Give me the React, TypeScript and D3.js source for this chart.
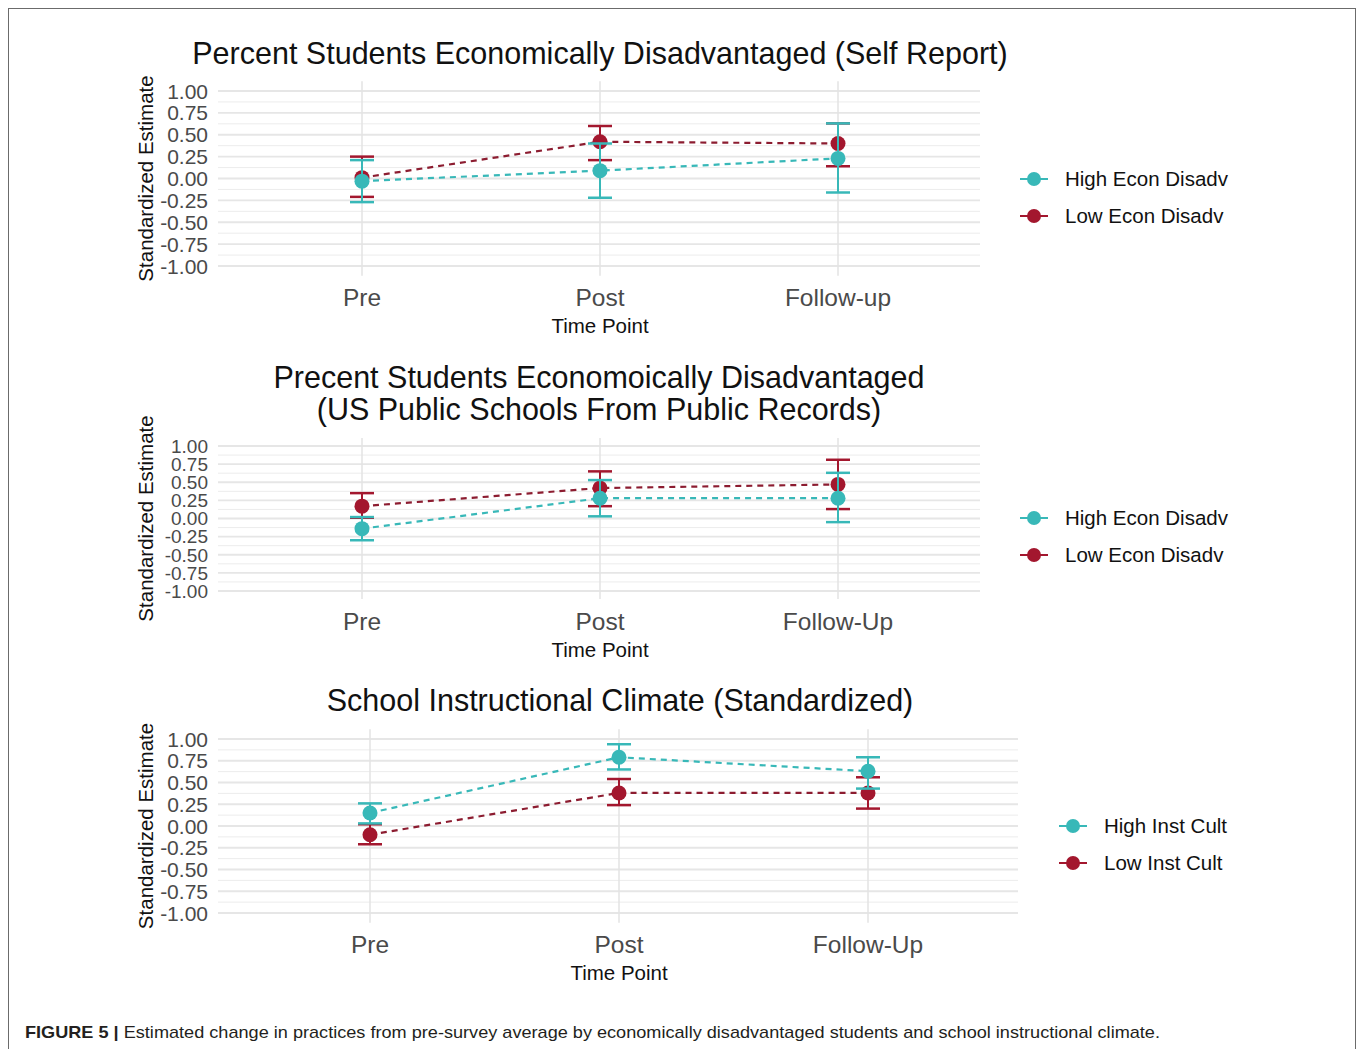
import React from 'react';
import * as d3 from 'd3';

// time point labels
const timeSelf = ['Pre', 'Post', 'Follow-up'];
const timeRecords = ['Pre', 'Post', 'Follow-Up'];
const timeClimate = ['Pre', 'Post', 'Follow-Up'];

// y tick labels
const yTicks = [1, 0.75, 0.5, 0.25, 0, -0.25, -0.5, -0.75, -1];

// panel 1: self report
const selfHighEst = [-0.03, 0.09, 0.23];
const selfHighLo = [-0.27, -0.22, -0.16];
const selfHighHi = [0.21, 0.40, 0.63];
const selfLowEst = [0.01, 0.42, 0.40];
const selfLowLo = [-0.21, 0.21, 0.14];
const selfLowHi = [0.25, 0.60, 0.63];

// panel 2: public records
const recHighEst = [-0.14, 0.28, 0.28];
const recHighLo = [-0.30, 0.03, -0.05];
const recHighHi = [0.02, 0.53, 0.63];
const recLowEst = [0.17, 0.42, 0.47];
const recLowLo = [0.01, 0.17, 0.13];
const recLowHi = [0.35, 0.65, 0.81];

// panel 3: instructional climate
const climHighEst = [0.15, 0.79, 0.63];
const climHighLo = [0.03, 0.65, 0.43];
const climHighHi = [0.26, 0.94, 0.79];
const climLowEst = [-0.10, 0.38, 0.38];
const climLowLo = [-0.21, 0.24, 0.20];
const climLowHi = [0.02, 0.54, 0.56];

const TEAL = '#38b8b8';
const RED = '#a3172e';
const RED_LINE = '#8c1c30';
const FONT = "'Liberation Sans', Arial, sans-serif";

type Series = { name: string; est: number[]; lo: number[]; hi: number[]; color: string; lineColor: string };

type PanelProps = {
  titles: string[];
  titleX: number;
  titleY: number;
  cats: string[];
  series: Series[];
  left: number;
  right: number;
  firstX: number;
  lastX: number;
  yTop: number;
  yBottom: number;
  tickSize: number;
  xLabelY: number;
  xTitleY: number;
  legendX: number;
  legendY: number;
};

// ggplot-style labels use a plain hyphen, not the unicode minus
const fmt = (v: number) => d3.format('.2f')(v).replace('\u2212', '-');

const Panel: React.FC<PanelProps> = (p) => {
  const x = d3.scalePoint<string>().domain(p.cats).range([p.firstX, p.lastX]);
  const y = d3.scaleLinear().domain([-1, 1]).range([p.yBottom, p.yTop]);
  const minor = d3.range(-0.875, 1, 0.25);
  const pad = (p.yBottom - p.yTop) * 0.04;
  const line = d3.line<number>().x((_, i) => x(p.cats[i]) as number).y(d => y(d));
  const yMid = (p.yTop + p.yBottom) / 2;

  return (
    <g>
      {p.titles.map((t, i) => (
        <text key={t} x={p.titleX} y={p.titleY + i * 32} textAnchor="middle" fontSize={30.5} fill="#111">{t}</text>
      ))}
      {minor.map(v => (
        <line key={'mn' + v} x1={p.left} x2={p.right} y1={y(v)} y2={y(v)} stroke="#ececec" strokeWidth={1} />
      ))}
      {yTicks.map(v => (
        <line key={'mj' + v} x1={p.left} x2={p.right} y1={y(v)} y2={y(v)} stroke="#e6e6e6" strokeWidth={1.8} />
      ))}
      {p.cats.map(c => (
        <line key={'v' + c} x1={x(c)} x2={x(c)} y1={p.yTop - pad * 1.4} y2={p.yBottom + pad * 1.4} stroke="#e3e3e3" strokeWidth={1.5} />
      ))}
      {yTicks.map(v => (
        <text key={'t' + v} x={208} y={y(v)} dy="0.36em" textAnchor="end" fontSize={p.tickSize} fill="#4a4a4a">{fmt(v)}</text>
      ))}
      <text transform={`translate(153,${yMid}) rotate(-90)`} textAnchor="middle" fontSize={20.5} fill="#111">Standardized Estimate</text>
      {p.cats.map(c => (
        <text key={'x' + c} x={x(c)} y={p.xLabelY} textAnchor="middle" fontSize={24.5} fill="#4a4a4a">{c}</text>
      ))}
      <text x={(p.firstX + p.lastX) / 2} y={p.xTitleY} textAnchor="middle" fontSize={20.5} fill="#111">Time Point</text>

      {p.series.map(s => (
        <g key={s.name}>
          <path d={line(s.est) || ''} fill="none" stroke={s.lineColor} strokeWidth={2.2} strokeDasharray="6,5" />
          {s.est.map((v, i) => {
            const cx = x(p.cats[i]) as number;
            return (
              <g key={i}>
                <line x1={cx} x2={cx} y1={y(s.lo[i])} y2={y(s.hi[i])} stroke={s.color} strokeWidth={2} />
                <line x1={cx - 12} x2={cx + 12} y1={y(s.lo[i])} y2={y(s.lo[i])} stroke={s.color} strokeWidth={2.5} />
                <line x1={cx - 12} x2={cx + 12} y1={y(s.hi[i])} y2={y(s.hi[i])} stroke={s.color} strokeWidth={2.5} />
                <circle cx={cx} cy={y(v)} r={7.5} fill={s.color} />
              </g>
            );
          })}
        </g>
      ))}

      {p.series.slice().reverse().map((s, i) => (
        <g key={'lg' + s.name} transform={`translate(${p.legendX},${p.legendY + i * 37})`}>
          <line x1={-14} x2={14} y1={0} y2={0} stroke={s.color} strokeWidth={2} />
          <circle cx={0} cy={0} r={7} fill={s.color} />
          <text x={31} y={0} dy="0.36em" fontSize={20.5} fill="#111">{s.name}</text>
        </g>
      ))}
    </g>
  );
};

const App: React.FC = () => {
  const mk = (name: string, est: number[], lo: number[], hi: number[], color: string, lineColor: string): Series =>
    ({ name, est, lo, hi, color, lineColor });

  return (
    <div style={{ position: 'absolute', left: 0, top: 0 }}>
      <svg width={1358} height={1049} fontFamily={FONT} style={{ display: 'block', background: '#fff' }}>
        <rect x={8.5} y={8.5} width={1347} height={1100} fill="none" stroke="#6b6b6b" strokeWidth={1} />

        <Panel
          titles={['Percent Students Economically Disadvantaged (Self Report)']}
          titleX={600} titleY={64}
          cats={timeSelf}
          series={[
            mk('Low Econ Disadv', selfLowEst, selfLowLo, selfLowHi, RED, RED_LINE),
            mk('High Econ Disadv', selfHighEst, selfHighLo, selfHighHi, TEAL, TEAL),
          ]}
          left={218} right={980} firstX={362} lastX={838}
          yTop={91} yBottom={266} tickSize={21} xLabelY={306} xTitleY={333}
          legendX={1034} legendY={179}
        />

        <Panel
          titles={['Precent Students Economoically Disadvantaged', '(US Public Schools From Public Records)']}
          titleX={599} titleY={388}
          cats={timeRecords}
          series={[
            mk('Low Econ Disadv', recLowEst, recLowLo, recLowHi, RED, RED_LINE),
            mk('High Econ Disadv', recHighEst, recHighLo, recHighHi, TEAL, TEAL),
          ]}
          left={218} right={980} firstX={362} lastX={838}
          yTop={446} yBottom={591} tickSize={19} xLabelY={630} xTitleY={657}
          legendX={1034} legendY={518}
        />

        <Panel
          titles={['School Instructional Climate (Standardized)']}
          titleX={620} titleY={711}
          cats={timeClimate}
          series={[
            mk('Low Inst Cult', climLowEst, climLowLo, climLowHi, RED, RED_LINE),
            mk('High Inst Cult', climHighEst, climHighLo, climHighHi, TEAL, TEAL),
          ]}
          left={218} right={1018} firstX={370} lastX={868}
          yTop={739} yBottom={913} tickSize={21} xLabelY={953} xTitleY={980}
          legendX={1073} legendY={826}
        />

        <text x={25} y={1038} fontSize={17} fill="#231f20" textLength={1135} lengthAdjust="spacingAndGlyphs">
          <tspan fontWeight="bold">FIGURE 5 | </tspan>
          <tspan>Estimated change in practices from pre-survey average by economically disadvantaged students and school instructional climate.</tspan>
        </text>
      </svg>
    </div>
  );
};

export default App;
